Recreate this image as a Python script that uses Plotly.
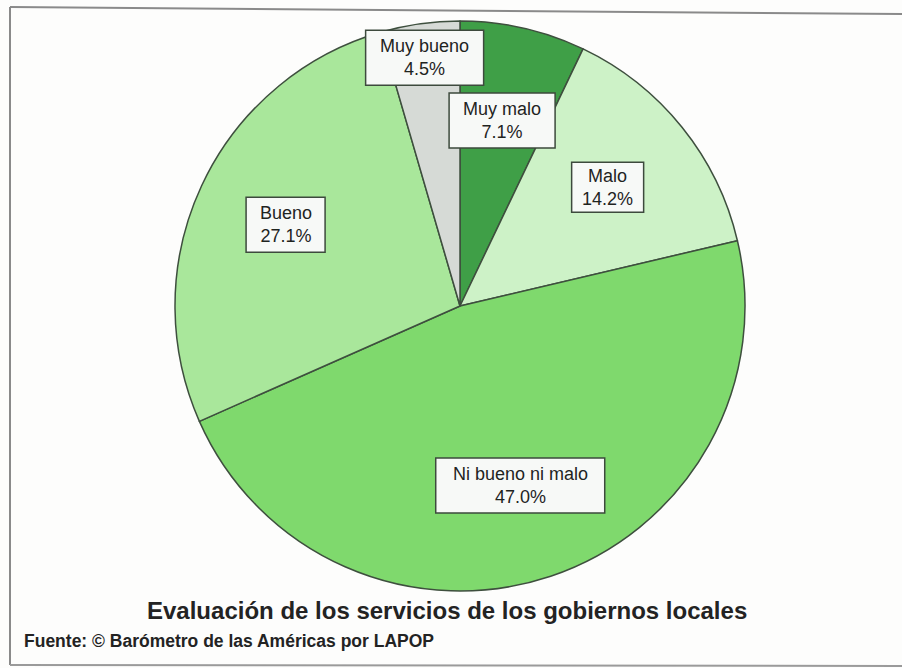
import math
import plotly.graph_objects as go

# Survey answers, clockwise from 12 o'clock
categories = ["Muy malo", "Malo", "Ni bueno ni malo", "Bueno", "Muy bueno"]
shares = [7.1, 14.2, 47.0, 27.1, 4.5]
slice_colors = ["#3f9f47", "#cdf2c7", "#7fd96d", "#a9e79b", "#d6dad6"]

title_text = "Evaluación de los servicios de los gobiernos locales"
source_text = "Fuente: © Barómetro de las Américas por LAPOP"

W, H = 902, 668
CX, CY, R = 460, 306, 285          # pie centre and radius in pixels

# label box placement: distance from centre (fraction of radius) and box size (px)
label_radius = [0.667, 0.665, 0.664, 0.675, 0.88]
box_size = [(106, 55), (72, 50), (169, 55), (79, 55), (118, 55)]

FONT = "Liberation Sans, Arial, sans-serif"


def px(x):
    return x / W


def py(y):
    return 1 - y / H


fig = go.Figure(
    go.Pie(
        labels=categories,
        values=shares,
        sort=False,
        direction="clockwise",
        rotation=0,
        marker=dict(colors=slice_colors, line=dict(color="#3e4f3e", width=1.5)),
        textinfo="none",
        hoverinfo="label+percent",
        showlegend=False,
        domain=dict(x=[px(CX - R), px(CX + R)], y=[py(CY + R), py(CY - R)]),
    )
)

shapes = []
annotations = []
total = sum(shares)
cum = 0.0
for name, val, rf, (bw, bh) in zip(categories, shares, label_radius, box_size):
    mid = (cum + val / 2) / total * 2 * math.pi
    cum += val
    lx = CX + rf * R * math.sin(mid)
    ly = CY - rf * R * math.cos(mid)
    shapes.append(dict(
        type="rect", xref="paper", yref="paper",
        x0=px(lx - bw / 2), x1=px(lx + bw / 2),
        y0=py(ly + bh / 2), y1=py(ly - bh / 2),
        fillcolor="#f7f9f7", line=dict(color="#3d4a3d", width=1.5),
        layer="above",
    ))
    annotations.append(dict(
        x=px(lx), y=py(ly), xref="paper", yref="paper",
        text=f"{name}<br>{val:.1f}%", showarrow=False,
        xanchor="center", yanchor="middle", align="center",
        font=dict(family=FONT, size=18, color="#1f241f"),
    ))

# outer frame
shapes += [
    dict(type="line", xref="paper", yref="paper",
         x0=px(10), y0=py(7), x1=px(W), y1=py(14),
         line=dict(color="#8a8a8a", width=2)),
    dict(type="line", xref="paper", yref="paper",
         x0=px(10), y0=py(7), x1=px(10), y1=py(665),
         line=dict(color="#8a8a8a", width=2)),
    dict(type="line", xref="paper", yref="paper",
         x0=px(10), y0=py(665), x1=px(W), y1=py(666),
         line=dict(color="#9a9a9a", width=2)),
]

annotations.append(dict(
    x=px(447), y=py(610), xref="paper", yref="paper",
    text=f"<b>{title_text}</b>", showarrow=False,
    xanchor="center", yanchor="middle",
    font=dict(family=FONT, size=24, color="#232323"),
))
annotations.append(dict(
    x=px(22), y=py(641), xref="paper", yref="paper",
    text=f"<b>{source_text}</b>", showarrow=False,
    xanchor="left", yanchor="middle",
    font=dict(family=FONT, size=17.5, color="#232323"),
))

fig.update_layout(
    width=W, height=H,
    margin=dict(l=0, r=0, t=0, b=0),
    paper_bgcolor="#fdfdfc",
    plot_bgcolor="#fdfdfc",
    shapes=shapes,
    annotations=annotations,
)

fig.write_html("out.html")
